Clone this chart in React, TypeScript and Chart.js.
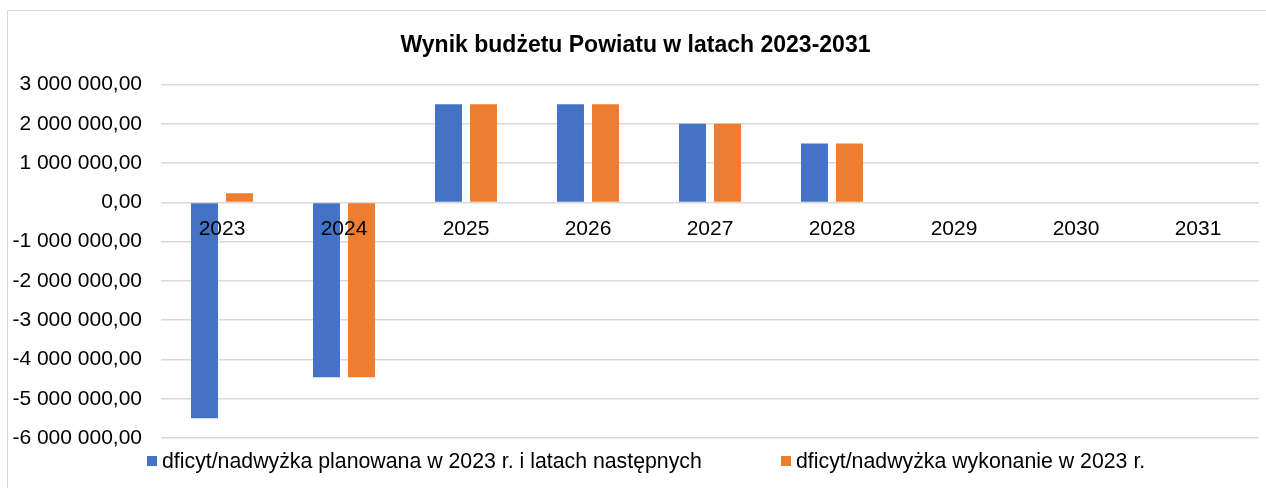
import React, { useEffect, useRef } from 'react';
import { Chart, registerables } from 'chart.js';

Chart.register(...registerables);

const categories = ['2023', '2024', '2025', '2026', '2027', '2028', '2029', '2030', '2031'];
const plannedValues = [-5500000, -4450000, 2500000, 2500000, 2000000, 1500000, 0, 0, 0];
const executedValues = [230000, -4450000, 2500000, 2500000, 2000000, 1500000, 0, 0, 0];
const seriesLabels = [
  'dficyt/nadwyżka planowana w 2023 r. i latach następnych',
  'dficyt/nadwyżka wykonanie w 2023 r.',
];
const seriesColors = ['#4472C4', '#ED7D31'];
const titleText = 'Wynik budżetu Powiatu w latach 2023-2031';
const yMin = -6000000;
const yMax = 3000000;
const yStep = 1000000;

const FONT = '"Liberation Sans", Arial, sans-serif';

function formatPl(v: number): string {
  const neg = v < 0;
  const abs = Math.round(Math.abs(v));
  const intPart = abs.toString().replace(/\B(?=(\d{3})+(?!\d))/g, ' ');
  return (neg ? '-' : '') + intPart + ',00';
}

export default function App() {
  const canvasRef = useRef<HTMLCanvasElement | null>(null);

  useEffect(() => {
    if (!canvasRef.current) return;
    const chart = new Chart(canvasRef.current, {
      type: 'bar',
      data: {
        labels: categories,
        datasets: [
          {
            label: seriesLabels[0],
            data: plannedValues,
            backgroundColor: seriesColors[0],
            borderWidth: 0,
          },
          {
            label: seriesLabels[1],
            data: executedValues,
            backgroundColor: seriesColors[1],
            borderWidth: 0,
          },
        ],
      },
      options: {
        animation: false,
        responsive: false,
        maintainAspectRatio: false,
        devicePixelRatio: 1,
        layout: { padding: { left: 4, right: 1, top: 0, bottom: 50 } },
        datasets: {
          bar: { categoryPercentage: 0.574, barPercentage: 0.77 },
        },
        plugins: {
          legend: { display: false },
          tooltip: { enabled: false },
          title: {
            display: true,
            text: titleText,
            color: '#000000',
            font: { family: FONT, size: 23, weight: 'bold' },
            padding: { top: 21, bottom: 25 },
          },
        },
        scales: {
          x: {
            position: { y: 0 } as any,
            grid: { display: false, drawTicks: false },
            border: { display: false },
            ticks: {
              z: 1,
              color: '#000000',
              font: { family: FONT, size: 21 },
              padding: 14,
              maxRotation: 0,
              autoSkip: false,
            },
          },
          y: {
            min: yMin,
            max: yMax,
            grid: { color: '#d9d9d9', lineWidth: 1.5, drawTicks: false },
            border: { display: false },
            afterFit: (scale: any) => {
              scale.width = 149;
            },
            ticks: {
              stepSize: yStep,
              color: '#000000',
              font: { family: FONT, size: 21 },
              padding: 19,
              callback: (v: any) => formatPl(Number(v)),
            },
          },
        },
      },
    });
    return () => chart.destroy();
  }, []);

  const legendItem = (i: number, left: number) => (
    <div
      key={i}
      style={{
        position: 'absolute',
        left,
        top: 448,
        height: 26,
        display: 'flex',
        alignItems: 'center',
        fontFamily: FONT,
        fontSize: 21.3,
        color: '#000000',
        whiteSpace: 'nowrap',
      }}
    >
      <span
        style={{
          display: 'inline-block',
          width: 10,
          height: 10,
          background: seriesColors[i],
          marginRight: 5,
        }}
      />
      <span>{seriesLabels[i]}</span>
    </div>
  );

  return (
    <div
      style={{
        position: 'fixed',
        left: 0,
        top: 0,
        width: 1266,
        height: 488,
        overflow: 'hidden',
        background: '#ffffff',
      }}
    >
      <div
        style={{
          position: 'absolute',
          left: 7,
          top: 10,
          width: 1275,
          height: 495,
          border: '1px solid #d9d9d9',
          boxSizing: 'border-box',
        }}
      />
      <canvas
        ref={canvasRef}
        width={1252}
        height={477}
        style={{ position: 'absolute', left: 8, top: 11, width: 1252, height: 477 }}
      />
      {legendItem(0, 147)}
      {legendItem(1, 781)}
    </div>
  );
}
